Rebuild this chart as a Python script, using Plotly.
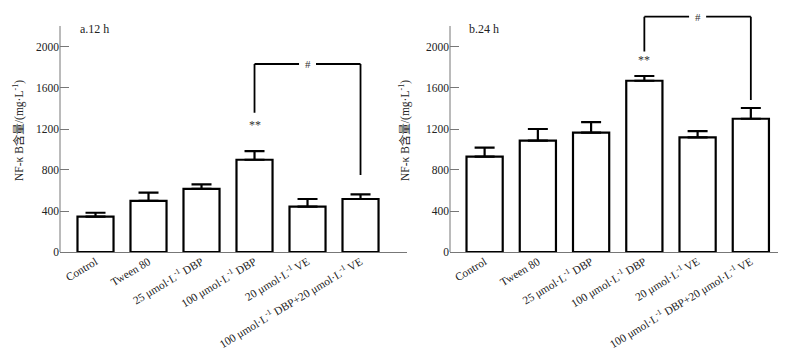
import plotly.graph_objects as go
from plotly.subplots import make_subplots

categories = ["Control", "Tween 80", "25 μmol·L<sup>-1</sup> DBP", "100 μmol·L<sup>-1</sup> DBP",
              "20 μmol·L<sup>-1</sup> VE", "100 μmol·L<sup>-1</sup> DBP+20 μmol·L<sup>-1</sup> VE"]
means_12h = [345, 498, 615, 900, 442, 517]
sd_12h = [38, 81, 45, 85, 75, 46]
means_24h = [930, 1086, 1164, 1671, 1119, 1300]
sd_24h = [88, 114, 104, 46, 61, 105]
y_ticks = [0, 400, 800, 1200, 1600, 2000]
panel_labels = ["a.12 h", "b.24 h"]
y_title = "NF-κ B含量/(mg·L<sup>-1</sup>)"

W, H = 795, 351
SERIF = "Liberation Serif, Times New Roman, Noto Sans CJK SC, serif"
pos = list(range(len(categories)))


def px_x(p):
    return p / W


def px_y(p):
    return (H - p) / H


fig = make_subplots(rows=1, cols=2)

for col, (m, s) in enumerate([(means_12h, sd_12h), (means_24h, sd_24h)], start=1):
    fig.add_trace(go.Bar(
        x=pos, y=m, width=0.68,
        marker=dict(color="white", line=dict(color="black", width=2.2)),
        error_y=dict(type="data", array=s, arrayminus=[0] * len(s), symmetric=False,
                     color="black", thickness=2.2, width=10),
        showlegend=False, hoverinfo="skip",
    ), row=1, col=col)

YMAX = 2330
SCALE = 0.1025  # px per unit
ydom = [px_y(252), px_y(252 - YMAX * SCALE)]
fig.update_layout(
    width=W, height=H, margin=dict(l=0, r=0, t=0, b=0, autoexpand=False),
    plot_bgcolor="white", paper_bgcolor="white",
    font=dict(family=SERIF, size=11, color="#222"),
    bargap=0,
    xaxis=dict(domain=[px_x(60), px_x(407)], range=[-0.67, 5.877]),
    xaxis2=dict(domain=[px_x(450), px_x(778)], range=[-0.65, 5.51]),
    yaxis=dict(domain=ydom, range=[0, YMAX]),
    yaxis2=dict(domain=ydom, range=[0, YMAX]),
)
fig.update_xaxes(tickmode="array", tickvals=pos, ticktext=categories, tickangle=-31,
                 showline=True, linecolor="#777", linewidth=1, ticks="", automargin=False,
                 ticklabelstandoff=-2,
                 showgrid=False, zeroline=False, tickfont=dict(size=11.3, color="#222"))
fig.update_yaxes(tickmode="array", tickvals=y_ticks, ticks="inside", ticklen=9,
                 tickcolor="#777", tickwidth=1, showline=False, showgrid=False, automargin=False,
                 zeroline=False, tickfont=dict(size=11.5, color="#222"))

shapes = []
annos = []
# y axis lines
for xr, yr in [("x domain", "y"), ("x2 domain", "y2")]:
    shapes.append(dict(type="line", xref=xr, yref=yr, x0=0, x1=0, y0=0, y1=2205,
                       line=dict(color="#777", width=1)))

# significance brackets: (xref, yref, left x, right x, left bottom, top, right bottom, star y)
brackets = [("x", "y", 3, 5, 1359, 1834, 751, 1239),
            ("x2", "y2", 3, 5, 1955, 2296, 1483, 1873)]
for xr, yr, xl, xrgt, lb, top, rb, sy in brackets:
    lw = dict(color="black", width=1.8)
    shapes.append(dict(type="line", xref=xr, yref=yr, x0=xl, x1=xl, y0=lb, y1=top, line=lw))
    shapes.append(dict(type="line", xref=xr, yref=yr, x0=xl, x1=3.84, y0=top, y1=top, line=lw))
    shapes.append(dict(type="line", xref=xr, yref=yr, x0=4.16, x1=xrgt, y0=top, y1=top, line=lw))
    shapes.append(dict(type="line", xref=xr, yref=yr, x0=xrgt, x1=xrgt, y0=top, y1=rb, line=lw))
    annos.append(dict(xref=xr, yref=yr, x=4, y=top, text="#", showarrow=False,
                      font=dict(size=11, color="#333"), xanchor="center", yanchor="middle"))
    annos.append(dict(xref=xr, yref=yr, x=xl, y=sy, text="**", showarrow=False,
                      font=dict(size=12, color="#333"), xanchor="center", yanchor="middle"))

for xr, yr, lab in [("x domain", "y", panel_labels[0]), ("x2 domain", "y2", panel_labels[1])]:
    annos.append(dict(xref=xr, yref=yr, x=0.052, y=2175, text=lab, showarrow=False,
                      xanchor="left", yanchor="middle", font=dict(size=12, color="#222")))

for xpx in [18, 404]:
    annos.append(dict(xref="paper", yref="paper", x=px_x(xpx), y=px_y(131), text=y_title,
                      textangle=-90, showarrow=False, xanchor="center", yanchor="middle",
                      font=dict(size=11.5, color="#222")))

fig.update_layout(shapes=shapes, annotations=annos)
# remove the default 8px page margin so the 795x351 figure fills the window exactly
fig.write_html("out.html", config={"displayModeBar": False, "staticPlot": True},
               post_script="document.body.style.margin='0px';document.body.style.overflow='hidden';")
